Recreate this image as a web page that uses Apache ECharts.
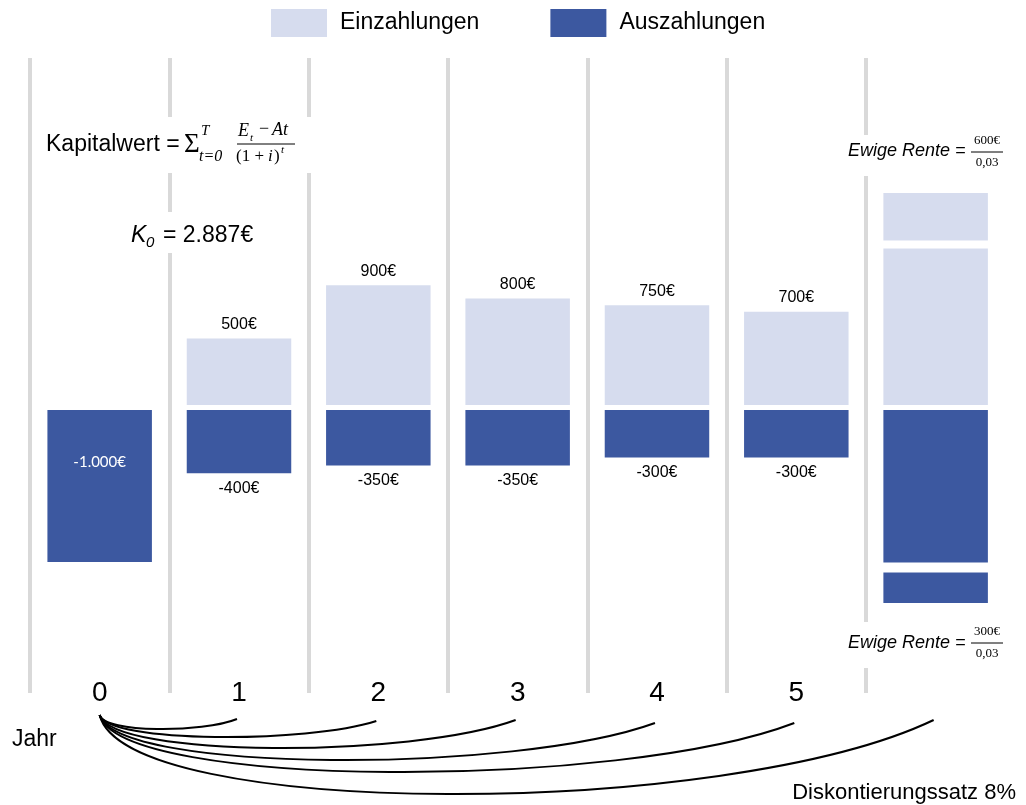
<!DOCTYPE html>
<html>
<head>
<meta charset="utf-8">
<script src="https://cdn.jsdelivr.net/npm/echarts@6/dist/echarts.min.js"></script>
<style>
  html, body { margin: 0; padding: 0; background: #fff; }
  #chart { width: 1026px; height: 805px; }
</style>
</head>
<body>
<div id="chart"></div>
<script>
// Zahlungsreihe einer Investition mit ewiger Rente
const years = ['0', '1', '2', '3', '4', '5'];
const columns = ['0', '1', '2', '3', '4', '5', 'Ewige Rente'];
const einzahlungen = [null, 500, 900, 800, 750, 700, 20000];
const auszahlungen = [-1000, -400, -350, -350, -300, -300, -10000];
// depth of each discounting arc below the year row (px), one per year 1..6
const arcDepth = [729, 737, 748, 760, 772, 794];
const arcEndY = [719, 721, 720, 723, 723, 720];

const LIGHT = '#D6DCEE';
const DARK = '#3C58A0';
const SEP = '#D9D9D9';
const SANS = '"Liberation Sans", Arial, sans-serif';
const SERIF = '"Liberation Serif", "DejaVu Serif", serif';

function euro(v) {
  const s = Math.abs(v).toString().replace(/\B(?=(\d{3})+(?!\d))/g, '.');
  return (v < 0 ? '-' : '') + s + '€';
}

const chart = echarts.init(document.getElementById('chart'), null, { renderer: 'canvas' });

const inData = einzahlungen.map((v, i) => ({
  value: v,
  label: { show: v !== null && i < 6 }
}));
const outData = auszahlungen.map((v, i) => {
  if (i === 0) {
    return {
      value: v,
      label: {
        show: true, position: 'insideTop', distance: 45,
        color: '#fff', fontFamily: 'Lato, "Open Sans", sans-serif', fontSize: 15
      }
    };
  }
  return { value: v, label: { show: i < 6 } };
});

// overlay elements live on an upper canvas layer, above the axis break bands
function t(x, y, text, font, extra) {
  return {
    type: 'text', zlevel: 1, z: 101,
    style: Object.assign({ x: x, y: y, text: text, font: font, fill: '#000',
      textVerticalAlign: 'middle', textAlign: 'left' }, extra || {})
  };
}
function whiteBox(x, y, w, h) {
  return { type: 'rect', zlevel: 1, z: 100, shape: { x: x, y: y, width: w, height: h }, style: { fill: '#fff' } };
}
function hline(x1, x2, y) {
  return { type: 'line', zlevel: 1, z: 101, shape: { x1: x1, y1: y, x2: x2, y2: y }, style: { stroke: '#000', lineWidth: 1 } };
}

const formulaGraphics = [
  // Kapitalwert formula
  whiteBox(40, 117, 272, 56),
  t(46, 145, 'Kapitalwert =', '23px ' + SANS),
  t(184, 145, 'Σ', '27px ' + SERIF),
  t(201, 131, 'T', 'italic 15px ' + SERIF),
  t(199, 157, 't=0', 'italic 16px ' + SERIF),
  t(238, 131, 'E', 'italic 18px ' + SERIF),
  t(250, 138, 't', 'italic 11px ' + SERIF),
  t(259, 129, '−', '18px ' + SERIF),
  t(272, 130, 'At', 'italic 18px ' + SERIF),
  hline(237, 295, 144),
  t(236, 157, '(1 + ', '17px ' + SERIF),
  t(268, 157, 'i', 'italic 17px ' + SERIF),
  t(274, 157, ')', '17px ' + SERIF),
  t(281, 150, 't', 'italic 11px ' + SERIF),
  // Kapitalwert result
  whiteBox(122, 212, 140, 41),
  t(131, 236, 'K', 'italic 23px ' + SANS),
  t(146, 243, '0', 'italic 15px ' + SANS),
  t(163, 236, '= 2.887€', '23px ' + SANS),
  // perpetuity of inflows
  whiteBox(838, 135, 180, 41),
  t(848, 151, 'Ewige Rente =', 'italic 18px ' + SANS),
  t(987, 141, '600€', '13px ' + SERIF, { textAlign: 'center' }),
  hline(971, 1003, 152),
  t(987, 163, '0,03', '13px ' + SERIF, { textAlign: 'center' }),
  // perpetuity of outflows
  whiteBox(838, 622, 180, 46),
  t(848, 643, 'Ewige Rente =', 'italic 18px ' + SANS),
  t(987, 632, '300€', '13px ' + SERIF, { textAlign: 'center' }),
  hline(971, 1003, 643),
  t(987, 654, '0,03', '13px ' + SERIF, { textAlign: 'center' }),
  // axis captions
  t(12, 740, 'Jahr', '23px ' + SANS),
  t(1016, 793, 'Diskontierungssatz 8%', '22px ' + SANS, { textAlign: 'right' })
];

const breakStyle = {
  show: true, expandOnClick: false,
  zigzagAmplitude: 0,
  itemStyle: { color: '#fff', borderWidth: 0, opacity: 1 }
};

const option = {
  animation: false,
  backgroundColor: '#fff',
  legend: {
    data: ['Einzahlungen', 'Auszahlungen'],
    left: 271, top: 9, padding: 0,
    itemWidth: 56, itemHeight: 28, itemGap: 71,
    icon: 'rect',
    textStyle: { fontSize: 23, fontFamily: SANS, color: '#000', padding: [0, 0, 0, 8] }
  },
  grid: [
    // frame with the year separators and labels
    { left: 30, width: 836, top: 58, bottom: 112 },
    // inflows (above the zero line)
    { left: 30, width: 975.3, top: 193, height: 212 },
    // outflows (below the zero line)
    { left: 30, width: 975.3, top: 410, height: 193 }
  ],
  xAxis: [
    {
      gridIndex: 0, type: 'category', data: years, boundaryGap: true, zlevel: 1, z: 1,
      axisLine: { show: false }, axisTick: { show: false },
      splitLine: { show: true, interval: 0, lineStyle: { color: SEP, width: 4 } },
      axisLabel: { fontSize: 28, fontFamily: SANS, color: '#000', margin: -14, interval: 0 }
    },
    { gridIndex: 1, type: 'category', data: columns, show: false },
    { gridIndex: 2, type: 'category', data: columns, show: false }
  ],
  yAxis: [
    { gridIndex: 0, type: 'value', min: 0, max: 1, show: false },
    {
      gridIndex: 1, type: 'value', min: 0, max: 20000,
      axisLine: { show: false }, axisTick: { show: false }, axisLabel: { show: false },
      splitLine: { show: false },
      breaks: [{ start: 1180, end: 19647, gap: '3.8%' }],
      breakArea: breakStyle
    },
    {
      gridIndex: 2, type: 'value', min: -10000, max: 0,
      axisLine: { show: false }, axisTick: { show: false }, axisLabel: { show: false },
      splitLine: { show: false },
      breaks: [{ start: -9804, end: -960, gap: '5.2%' }],
      breakArea: breakStyle
    }
  ],
  series: [
    {
      name: 'Einzahlungen', type: 'bar', xAxisIndex: 1, yAxisIndex: 1,
      barWidth: '75%', itemStyle: { color: LIGHT },
      label: { position: 'top', distance: 6, fontSize: 16, fontFamily: SANS, color: '#000',
        formatter: p => euro(p.value) },
      data: inData
    },
    {
      name: 'Auszahlungen', type: 'bar', xAxisIndex: 2, yAxisIndex: 2,
      barWidth: '75%', itemStyle: { color: DARK },
      label: { position: 'bottom', distance: 7, fontSize: 16, fontFamily: SANS, color: '#000',
        formatter: p => euro(p.value) },
      data: outData
    }
  ],
  graphic: { elements: formulaGraphics }
};

chart.setOption(option);

// discounting arcs from year 0 to every later column
const x0 = chart.convertToPixel({ xAxisIndex: 1 }, 0);
const y0 = 715;
const arcs = arcDepth.map((depth, k) => {
  const xe = chart.convertToPixel({ xAxisIndex: 1 }, k + 1) - 2;
  const ye = arcEndY[k];
  const L = xe - x0;
  const yc = (8 * depth - y0 - ye) / 6;
  return {
    type: 'bezierCurve', zlevel: 1, z: 101,
    shape: { x1: x0, y1: y0, cpx1: x0 + 0.03 * L, cpy1: yc, cpx2: xe - 0.25 * L, cpy2: yc, x2: xe, y2: ye },
    style: { stroke: '#000', lineWidth: 2, fill: null }
  };
});
chart.setOption({ graphic: { elements: formulaGraphics.concat(arcs) } }, { replaceMerge: ['graphic'] });
</script>
</body>
</html>
